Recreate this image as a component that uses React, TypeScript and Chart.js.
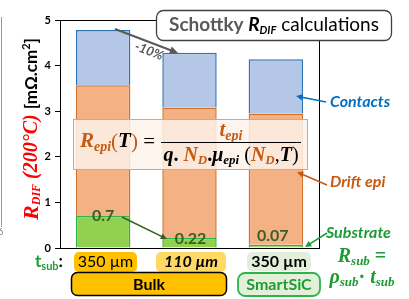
import React, { useEffect, useRef } from "react";
import { Chart, registerables } from "chart.js";
Chart.register(...registerables);

const categories = ["Bulk 350 µm", "Bulk 110 µm", "SmartSiC 350 µm"];
const substrate = [0.7, 0.22, 0.07];
const driftEpi = [2.87, 2.86, 2.88];
const contacts = [1.21, 1.2, 1.19];
const substrateLabels = ["0.7", "0.22", "0.07"];
const yTicks = [0, 1, 2, 3, 4, 5];

const SANS = "Lato, 'Open Sans', sans-serif";
const SERIF = "'Liberation Serif', 'DejaVu Serif', serif";
const ORANGE = "#c55a11";
const GREEN = "#1e9b33";
const BLUE = "#0070c0";
const DKGREEN = "#3b5e23";

type Seg = { t: string; f: string; c: string; dy?: number };

function rich(ctx: CanvasRenderingContext2D, segs: Seg[], x: number, y: number, align: "left" | "center" = "center") {
  let w = 0;
  for (const g of segs) {
    ctx.font = g.f;
    w += ctx.measureText(g.t).width;
  }
  let cx = align === "center" ? x - w / 2 : x;
  ctx.textAlign = "left";
  ctx.textBaseline = "middle";
  for (const g of segs) {
    ctx.font = g.f;
    ctx.fillStyle = g.c;
    ctx.fillText(g.t, cx, y + (g.dy || 0));
    cx += ctx.measureText(g.t).width;
  }
  return w;
}

function arrow(ctx: CanvasRenderingContext2D, x1: number, y1: number, x2: number, y2: number, color: string, lw = 1.5, head = 7) {
  const a = Math.atan2(y2 - y1, x2 - x1);
  ctx.save();
  ctx.strokeStyle = color;
  ctx.fillStyle = color;
  ctx.lineWidth = lw;
  ctx.beginPath();
  ctx.moveTo(x1, y1);
  ctx.lineTo(x2 - Math.cos(a) * head * 0.7, y2 - Math.sin(a) * head * 0.7);
  ctx.stroke();
  ctx.beginPath();
  ctx.moveTo(x2, y2);
  ctx.lineTo(x2 - head * Math.cos(a - 0.45), y2 - head * Math.sin(a - 0.45));
  ctx.lineTo(x2 - head * Math.cos(a + 0.45), y2 - head * Math.sin(a + 0.45));
  ctx.closePath();
  ctx.fill();
  ctx.restore();
}

function rbox(ctx: CanvasRenderingContext2D, x: number, y: number, w: number, h: number, r: number, fill: string | null, stroke: string | null, lw = 1) {
  ctx.save();
  ctx.beginPath();
  ctx.roundRect(x, y, w, h, r);
  if (fill) {
    ctx.fillStyle = fill;
    ctx.fill();
  }
  if (stroke) {
    ctx.strokeStyle = stroke;
    ctx.lineWidth = lw;
    ctx.stroke();
  }
  ctx.restore();
}

const annotations = {
  id: "annotations",
  afterDraw(chart: any) {
    const ctx: CanvasRenderingContext2D = chart.ctx;
    const ca = chart.chartArea;
    const xs = chart.scales.x;
    ctx.save();
    // plot frame top/right
    ctx.strokeStyle = "#000";
    ctx.lineWidth = 1;
    ctx.beginPath();
    ctx.moveTo(ca.left, ca.top + 0.5);
    ctx.lineTo(ca.right + 0.5, ca.top + 0.5);
    ctx.lineTo(ca.right + 0.5, ca.bottom);
    ctx.stroke();

    // neighbour edge
    ctx.strokeStyle = "#999";
    ctx.beginPath();
    ctx.moveTo(1.5, 17);
    ctx.lineTo(1.5, 227);
    ctx.stroke();
    ctx.font = `9px ${SANS}`;
    ctx.fillStyle = "#777";
    ctx.textAlign = "left";
    ctx.textBaseline = "middle";
    ctx.fillText("6", -2, 232);

    // y-axis title
    ctx.save();
    ctx.translate(32, 129);
    ctx.rotate(-Math.PI / 2);
    rich(ctx, [
      { t: "R", f: `bold italic 22px ${SERIF}`, c: "#ff0000" },
      { t: "DIF", f: `bold italic 12px ${SERIF}`, c: "#ff0000", dy: 5 },
      { t: " (200°C) ", f: `bold italic 20px ${SERIF}`, c: "#ff0000" },
      { t: "[mΩ.cm", f: `bold 17px ${SANS}`, c: "#000" },
      { t: "2", f: `bold 11px ${SANS}`, c: "#000", dy: -6 },
      { t: "]", f: `bold 17px ${SANS}`, c: "#000" },
    ], 0, 0);
    ctx.restore();

    // title box
    rbox(ctx, 156.5, 10.5, 235, 30, 7, "#fff", "#404040", 1.3);
    rich(ctx, [
      { t: "Schottky ", f: `bold 19px ${SANS}`, c: "#595959" },
      { t: "R", f: `bold italic 19px ${SANS}`, c: "#000" },
      { t: "DIF", f: `bold italic 11px ${SANS}`, c: "#000", dy: 5 },
      { t: " calculations", f: `19px ${SANS}`, c: "#000" },
    ], 274, 25);

    // -10% arrow
    arrow(ctx, 115, 29, 178, 53, "#595959", 2, 9);
    ctx.save();
    ctx.translate(149, 51);
    ctx.rotate(0.36);
    ctx.font = `italic bold 13px ${SANS}`;
    ctx.fillStyle = "#595959";
    ctx.textAlign = "center";
    ctx.textBaseline = "middle";
    ctx.fillText("-10%", 0, 0);
    ctx.restore();

    // formula box
    ctx.save();
    ctx.fillStyle = "rgba(253,242,234,0.85)";
    ctx.fillRect(73, 119, 234, 50);
    ctx.strokeStyle = "#e8a070";
    ctx.lineWidth = 1;
    ctx.strokeRect(73.5, 119.5, 234, 50);
    ctx.restore();
    rich(ctx, [
      { t: "R", f: `bold italic 21px ${SERIF}`, c: ORANGE },
      { t: "epi", f: `bold italic 14px ${SERIF}`, c: ORANGE, dy: 5 },
      { t: "(", f: `21px ${SERIF}`, c: ORANGE },
      { t: "T", f: `bold italic 21px ${SERIF}`, c: "#000" },
      { t: ")", f: `21px ${SERIF}`, c: ORANGE },
      { t: " =", f: `21px ${SERIF}`, c: "#000" },
    ], 80, 142, "left");
    rich(ctx, [
      { t: "t", f: `bold italic 21px ${SERIF}`, c: ORANGE },
      { t: "epi", f: `bold italic 14px ${SERIF}`, c: ORANGE, dy: 5 },
    ], 231, 131);
    ctx.strokeStyle = "#000";
    ctx.lineWidth = 1;
    ctx.beginPath();
    ctx.moveTo(161, 142.5);
    ctx.lineTo(301, 142.5);
    ctx.stroke();
    rich(ctx, [
      { t: "q", f: `bold italic 20px ${SERIF}`, c: "#000" },
      { t: ". ", f: `bold 20px ${SERIF}`, c: "#000" },
      { t: "N", f: `bold italic 20px ${SERIF}`, c: ORANGE },
      { t: "D", f: `bold italic 13px ${SERIF}`, c: ORANGE, dy: 5 },
      { t: ".", f: `bold 20px ${SERIF}`, c: "#000" },
      { t: "μ", f: `bold italic 20px ${SERIF}`, c: "#000" },
      { t: "epi", f: `bold italic 13px ${SERIF}`, c: "#000", dy: 5 },
      { t: " (", f: `20px ${SERIF}`, c: "#000" },
      { t: "N", f: `bold italic 20px ${SERIF}`, c: ORANGE },
      { t: "D", f: `bold italic 13px ${SERIF}`, c: ORANGE, dy: 5 },
      { t: ",", f: `20px ${SERIF}`, c: "#000" },
      { t: "T", f: `bold italic 20px ${SERIF}`, c: "#000" },
      { t: ")", f: `20px ${SERIF}`, c: "#000" },
    ], 231, 156);

    // substrate value labels
    ctx.font = `bold 16px ${SANS}`;
    ctx.fillStyle = DKGREEN;
    ctx.textAlign = "center";
    ctx.textBaseline = "middle";
    const labelY = [216, 239, 236];
    const labelDx = [0, 1, -3];
    substrateLabels.forEach((s, i) => {
      ctx.fillText(s, xs.getPixelForValue(i) + labelDx[i], labelY[i]);
    });
    arrow(ctx, 122, 217, 167, 239, DKGREEN, 1.6, 7);

    // side labels
    ctx.textAlign = "left";
    ctx.font = `bold italic 16px ${SANS}`;
    ctx.fillStyle = BLUE;
    ctx.fillText("Contacts", 330, 102);
    arrow(ctx, 326, 102, 296, 96, BLUE, 1.5, 7);
    ctx.fillStyle = ORANGE;
    ctx.fillText("Drift epi", 330, 182);
    arrow(ctx, 327, 185, 297, 172, ORANGE, 1.5, 7);
    ctx.fillStyle = GREEN;
    ctx.fillText("Substrate", 326, 233);
    arrow(ctx, 327, 233, 305, 247, GREEN, 1.5, 7);
    rich(ctx, [
      { t: "R", f: `bold italic 20px ${SERIF}`, c: GREEN },
      { t: "sub", f: `bold italic 13px ${SERIF}`, c: GREEN, dy: 5 },
      { t: " =", f: `bold 20px ${SERIF}`, c: GREEN },
    ], 362, 257);
    rich(ctx, [
      { t: "ρ", f: `bold italic 20px ${SERIF}`, c: GREEN },
      { t: "sub", f: `bold italic 13px ${SERIF}`, c: GREEN, dy: 5 },
      { t: "· ", f: `bold 20px ${SERIF}`, c: GREEN },
      { t: "t", f: `bold italic 20px ${SERIF}`, c: GREEN },
      { t: "sub", f: `bold italic 13px ${SERIF}`, c: GREEN, dy: 5 },
    ], 362, 278);

    // t_sub row
    rich(ctx, [
      { t: "t", f: `bold 17px ${SANS}`, c: GREEN },
      { t: "sub", f: `bold 11px ${SANS}`, c: GREEN, dy: 4 },
      { t: ":", f: `bold 17px ${SANS}`, c: "#000" },
    ], 35, 262, "left");
    rbox(ctx, 74, 252, 63, 20, 5, "#ffc000", null);
    rbox(ctx, 156, 252, 70, 20, 5, "#ffd966", null);
    rbox(ctx, 247, 252, 64, 19, 5, "#e2efda", null);
    ctx.textAlign = "center";
    ctx.fillStyle = "#000";
    ctx.font = `16px ${SANS}`;
    ctx.fillText("350 µm", 105.5, 262);
    ctx.font = `bold italic 16px ${SANS}`;
    ctx.fillText("110 µm", 191, 262);
    ctx.font = `bold 16px ${SANS}`;
    ctx.fillText("350 µm", 279, 262);

    rbox(ctx, 71.5, 272.5, 155, 23, 6, "#ffc000", "#000", 1.5);
    ctx.font = `bold 16px ${SANS}`;
    ctx.fillStyle = "#000";
    ctx.fillText("Bulk", 149, 284.5);
    rbox(ctx, 238, 273, 82, 23, 7, "#e2f0d9", "#2db34a", 1.8);
    ctx.fillStyle = GREEN;
    ctx.fillText("SmartSiC", 279, 285);

    ctx.restore();
  },
};

export default function App() {
  const ref = useRef<HTMLCanvasElement>(null);
  useEffect(() => {
    document.body.style.margin = "0";
    const chart = new Chart(ref.current!, {
      type: "bar",
      data: {
        labels: categories,
        datasets: [
          { label: "Substrate", data: substrate, backgroundColor: "#92d050", borderColor: "#2db34a", borderWidth: 1.5 },
          { label: "Drift epi", data: driftEpi, backgroundColor: "#f4b183", borderColor: "#d0702c", borderWidth: 1.5 },
          { label: "Contacts", data: contacts, backgroundColor: "#b4c7e7", borderColor: "#2e75b6", borderWidth: 1.5 },
        ],
      },
      options: {
        responsive: false,
        animation: false,
        layout: { padding: { left: 0, top: 20, right: 90, bottom: 51 } },
        datasets: { bar: { barPercentage: 0.63, categoryPercentage: 1 } },
        plugins: { legend: { display: false }, tooltip: { enabled: false } },
        scales: {
          x: {
            stacked: true,
            ticks: { display: false },
            grid: { display: false },
            border: { display: true, color: "#000", width: 1 },
            afterFit: (s: any) => { s.height = 0; },
          },
          y: {
            stacked: true,
            min: 0,
            max: 5,
            afterBuildTicks: (s: any) => { s.ticks = yTicks.map((v) => ({ value: v })); },
            ticks: { color: "#000", font: { family: SANS, size: 11, weight: "bold" }, padding: 4 },
            grid: { drawOnChartArea: false, drawTicks: true, tickLength: 5, color: "#000" },
            border: { display: true, color: "#000", width: 1 },
            afterFit: (s: any) => { s.width = 60; },
          },
        },
      },
      plugins: [annotations],
    });
    return () => chart.destroy();
  }, []);
  return (
    <div style={{ position: "absolute", left: 0, top: 0, width: 409, height: 299 }}>
      <canvas ref={ref} width={409} height={299} style={{ display: "block" }} />
    </div>
  );
}
